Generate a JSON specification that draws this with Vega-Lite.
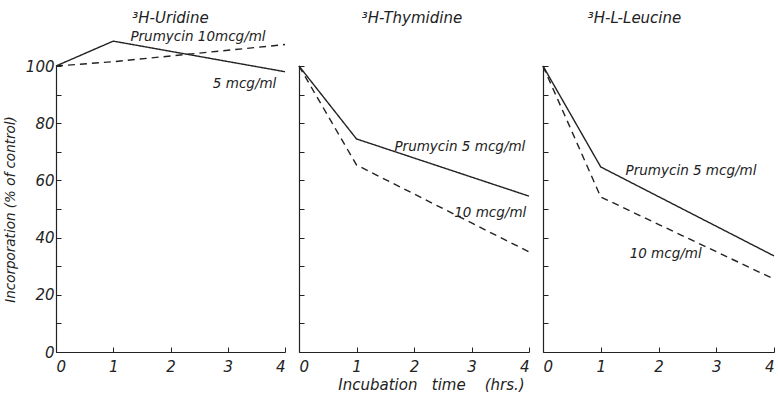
{
  "$schema": "https://vega.github.io/schema/vega-lite/v6.json",
  "padding": {"left": 3, "top": 11, "right": 0, "bottom": 0},
  "spacing": 8,
  "datasets": {
    "lines": [
      {"panel": "Uridine", "dose": "5 mcg/ml", "time": 0, "pct": 100},
      {"panel": "Uridine", "dose": "5 mcg/ml", "time": 1, "pct": 108.7},
      {"panel": "Uridine", "dose": "5 mcg/ml", "time": 4, "pct": 98},
      {"panel": "Uridine", "dose": "10 mcg/ml", "time": 0, "pct": 100},
      {"panel": "Uridine", "dose": "10 mcg/ml", "time": 1, "pct": 101.5},
      {"panel": "Uridine", "dose": "10 mcg/ml", "time": 4, "pct": 107.5},
      {"panel": "Thymidine", "dose": "5 mcg/ml", "time": 0, "pct": 100},
      {"panel": "Thymidine", "dose": "5 mcg/ml", "time": 1, "pct": 74.5},
      {"panel": "Thymidine", "dose": "5 mcg/ml", "time": 4, "pct": 54.5},
      {"panel": "Thymidine", "dose": "10 mcg/ml", "time": 0, "pct": 100},
      {"panel": "Thymidine", "dose": "10 mcg/ml", "time": 1, "pct": 65.4},
      {"panel": "Thymidine", "dose": "10 mcg/ml", "time": 4, "pct": 35},
      {"panel": "Leucine", "dose": "5 mcg/ml", "time": 0, "pct": 100},
      {"panel": "Leucine", "dose": "5 mcg/ml", "time": 1, "pct": 64.7},
      {"panel": "Leucine", "dose": "5 mcg/ml", "time": 4, "pct": 33.6},
      {"panel": "Leucine", "dose": "10 mcg/ml", "time": 0, "pct": 100},
      {"panel": "Leucine", "dose": "10 mcg/ml", "time": 1, "pct": 54.2},
      {"panel": "Leucine", "dose": "10 mcg/ml", "time": 4, "pct": 25.5}
    ],
    "labels": [
      {"panel": "Uridine", "x": 1.3, "y": 110, "text": "Prumycin 10mcg/ml"},
      {"panel": "Uridine", "x": 2.74, "y": 93.7, "text": "5 mcg/ml"},
      {"panel": "Thymidine", "x": 1.66, "y": 71.7, "text": "Prumycin 5 mcg/ml"},
      {"panel": "Thymidine", "x": 2.7, "y": 48.6, "text": "10 mcg/ml"},
      {"panel": "Leucine", "x": 1.43, "y": 63.3, "text": "Prumycin 5 mcg/ml"},
      {"panel": "Leucine", "x": 1.5, "y": 34.3, "text": "10 mcg/ml"}
    ]
  },
  "config": {
    "view": {"stroke": null},
    "font": "DejaVu Sans",
    "axis": {
      "grid": false,
      "domainColor": "#222",
      "domainWidth": 1.2,
      "tickColor": "#222",
      "tickWidth": 1,
      "tickSize": -5,
      "tickCount": 12,
      "labelColor": "#222",
      "titleColor": "#222",
      "labelFont": "DejaVu Sans",
      "labelFontSize": 15,
      "labelFontStyle": "italic",
      "titleFont": "DejaVu Sans",
      "titleFontSize": 13.5,
      "titleFontStyle": "italic",
      "titleFontWeight": "normal"
    },
    "title": {"font": "DejaVu Sans", "fontSize": 15, "fontWeight": "normal", "fontStyle": "italic", "color": "#222", "offset": 37}
  },
  "hconcat": [
    {
      "width": 229,
      "height": 286,
      "title": {"text": "³H-Uridine", "offset": 4},
      "layer": [
        {
          "data": {"name": "lines"},
          "transform": [{"filter": "datum.panel === 'Uridine'"}],
          "mark": {"type": "line", "color": "#222", "strokeWidth": 1.4},
          "encoding": {
            "x": {"field": "time", "type": "quantitative", "scale": {"domain": [0, 4], "nice": false}, "axis": {"values": [0, 1, 2, 3, 4], "format": "d", "title": null, "labelPadding": 12}},
            "y": {"field": "pct", "type": "quantitative", "scale": {"domain": [0, 100], "nice": false}, "axis": {"values": [0, 10, 20, 30, 40, 50, 60, 70, 80, 90, 100], "labelExpr": "datum.value % 20 === 0 ? datum.label : ''", "title": "Incorporation (% of control)", "labelPadding": 7, "titlePadding": 8}},
            "strokeDash": {"field": "dose", "type": "nominal", "scale": {"domain": ["5 mcg/ml", "10 mcg/ml"], "range": [[1, 0], [7, 5]]}, "legend": null},
            "detail": {"field": "dose"}
          }
        },
        {
          "data": {"name": "labels"},
          "transform": [{"filter": "datum.panel === 'Uridine'"}],
          "mark": {"type": "text", "align": "left", "baseline": "middle", "fontSize": 13.5, "fontStyle": "italic", "color": "#222"},
          "encoding": {
            "x": {"field": "x", "type": "quantitative"},
            "y": {"field": "y", "type": "quantitative"},
            "text": {"field": "text"}
          }
        }
      ]
    },
    {
      "width": 230,
      "height": 286,
      "title": {"text": "³H-Thymidine", "dx": -2},
      "layer": [
        {
          "data": {"name": "lines"},
          "transform": [{"filter": "datum.panel === 'Thymidine'"}],
          "mark": {"type": "line", "color": "#222", "strokeWidth": 1.4},
          "encoding": {
            "x": {"field": "time", "type": "quantitative", "scale": {"domain": [0, 4], "nice": false}, "axis": {"values": [0, 1, 2, 3, 4], "format": "d", "title": "Incubation\u00a0\u00a0\u00a0time\u00a0\u00a0\u00a0\u00a0(hrs.)", "labelPadding": 12, "titlePadding": 3, "titleX": 132, "titleFontSize": 15}},
            "y": {"field": "pct", "type": "quantitative", "scale": {"domain": [0, 100], "nice": false}, "axis": {"values": [0, 10, 20, 30, 40, 50, 60, 70, 80, 90, 100], "labels": false, "title": null}},
            "strokeDash": {"field": "dose", "type": "nominal", "scale": {"domain": ["5 mcg/ml", "10 mcg/ml"], "range": [[1, 0], [7, 5]]}, "legend": null},
            "detail": {"field": "dose"}
          }
        },
        {
          "data": {"name": "labels"},
          "transform": [{"filter": "datum.panel === 'Thymidine'"}],
          "mark": {"type": "text", "align": "left", "baseline": "middle", "fontSize": 13.5, "fontStyle": "italic", "color": "#222"},
          "encoding": {
            "x": {"field": "x", "type": "quantitative"},
            "y": {"field": "y", "type": "quantitative"},
            "text": {"field": "text"}
          }
        }
      ]
    },
    {
      "width": 231,
      "height": 286,
      "title": {"text": "³H-L-Leucine", "dx": -24},
      "layer": [
        {
          "data": {"name": "lines"},
          "transform": [{"filter": "datum.panel === 'Leucine'"}],
          "mark": {"type": "line", "color": "#222", "strokeWidth": 1.4},
          "encoding": {
            "x": {"field": "time", "type": "quantitative", "scale": {"domain": [0, 4], "nice": false}, "axis": {"values": [0, 1, 2, 3, 4], "format": "d", "title": null, "labelPadding": 12}},
            "y": {"field": "pct", "type": "quantitative", "scale": {"domain": [0, 100], "nice": false}, "axis": {"values": [0, 10, 20, 30, 40, 50, 60, 70, 80, 90, 100], "labels": false, "title": null}},
            "strokeDash": {"field": "dose", "type": "nominal", "scale": {"domain": ["5 mcg/ml", "10 mcg/ml"], "range": [[1, 0], [7, 5]]}, "legend": null},
            "detail": {"field": "dose"}
          }
        },
        {
          "data": {"name": "labels"},
          "transform": [{"filter": "datum.panel === 'Leucine'"}],
          "mark": {"type": "text", "align": "left", "baseline": "middle", "fontSize": 13.5, "fontStyle": "italic", "color": "#222"},
          "encoding": {
            "x": {"field": "x", "type": "quantitative"},
            "y": {"field": "y", "type": "quantitative"},
            "text": {"field": "text"}
          }
        }
      ]
    }
  ]
}
